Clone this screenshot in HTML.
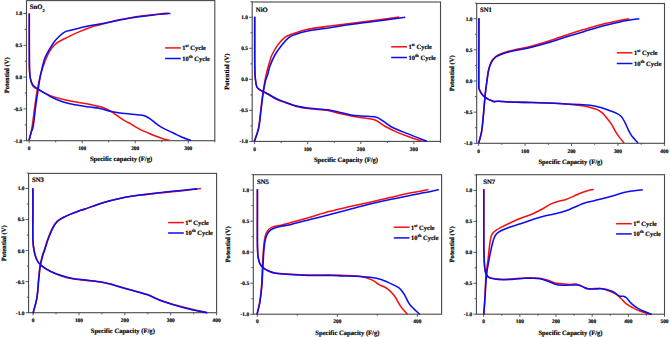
<!DOCTYPE html>
<html><head><meta charset="utf-8"><style>
html,body{margin:0;padding:0;background:#fff;}
body{width:670px;height:337px;overflow:hidden;}
svg{display:block;}
text{font-family:"Liberation Serif",serif;font-weight:bold;fill:#000;stroke:#000;stroke-width:0.18px;text-rendering:geometricPrecision;}
.tl{font-size:5.4px;}
.tt{font-size:6.7px;}
.lg{font-size:6.5px;}
.al{font-size:6.6px;}
</style></head><body>
<svg width="670" height="337" viewBox="0 0 670 337">
<rect width="670" height="337" fill="#fff"/>
<rect x="26.50" y="0.60" width="188.30" height="140.10" fill="none" stroke="#484848" stroke-width="1.1"/>
<line x1="23.50" y1="140.70" x2="26.50" y2="140.70" stroke="#484848" stroke-width="0.9"/>
<text x="22.30" y="142.60" class="tl" text-anchor="end">-1.0</text>
<line x1="24.70" y1="124.80" x2="26.50" y2="124.80" stroke="#484848" stroke-width="0.9"/>
<line x1="23.50" y1="108.90" x2="26.50" y2="108.90" stroke="#484848" stroke-width="0.9"/>
<text x="22.30" y="110.80" class="tl" text-anchor="end">-0.5</text>
<line x1="24.70" y1="93.00" x2="26.50" y2="93.00" stroke="#484848" stroke-width="0.9"/>
<line x1="23.50" y1="77.10" x2="26.50" y2="77.10" stroke="#484848" stroke-width="0.9"/>
<text x="22.30" y="79.00" class="tl" text-anchor="end">0.0</text>
<line x1="24.70" y1="61.20" x2="26.50" y2="61.20" stroke="#484848" stroke-width="0.9"/>
<line x1="23.50" y1="45.30" x2="26.50" y2="45.30" stroke="#484848" stroke-width="0.9"/>
<text x="22.30" y="47.20" class="tl" text-anchor="end">0.5</text>
<line x1="24.70" y1="29.40" x2="26.50" y2="29.40" stroke="#484848" stroke-width="0.9"/>
<line x1="23.50" y1="13.50" x2="26.50" y2="13.50" stroke="#484848" stroke-width="0.9"/>
<text x="22.30" y="15.40" class="tl" text-anchor="end">1.0</text>
<line x1="29.15" y1="140.70" x2="29.15" y2="143.30" stroke="#484848" stroke-width="0.9"/>
<text x="29.15" y="149.90" class="tl" text-anchor="middle">0</text>
<line x1="55.67" y1="140.70" x2="55.67" y2="142.30" stroke="#484848" stroke-width="0.9"/>
<line x1="82.19" y1="140.70" x2="82.19" y2="143.30" stroke="#484848" stroke-width="0.9"/>
<text x="82.19" y="149.90" class="tl" text-anchor="middle">100</text>
<line x1="108.71" y1="140.70" x2="108.71" y2="142.30" stroke="#484848" stroke-width="0.9"/>
<line x1="135.23" y1="140.70" x2="135.23" y2="143.30" stroke="#484848" stroke-width="0.9"/>
<text x="135.23" y="149.90" class="tl" text-anchor="middle">200</text>
<line x1="161.75" y1="140.70" x2="161.75" y2="142.30" stroke="#484848" stroke-width="0.9"/>
<line x1="188.27" y1="140.70" x2="188.27" y2="143.30" stroke="#484848" stroke-width="0.9"/>
<text x="188.27" y="149.90" class="tl" text-anchor="middle">300</text>
<line x1="214.79" y1="140.70" x2="214.79" y2="142.30" stroke="#484848" stroke-width="0.9"/>
<path d="M29.30 13.40C29.30 17.83 29.28 31.23 29.30 40.00C29.32 48.77 29.30 60.17 29.40 66.00C29.50 71.83 29.63 72.50 29.90 75.00C30.17 77.50 30.43 79.08 31.00 81.00C31.57 82.92 31.80 84.92 33.30 86.50C34.80 88.08 37.17 88.98 40.00 90.50C42.83 92.02 46.55 94.13 50.30 95.60C54.05 97.07 58.43 98.27 62.50 99.30C66.57 100.33 70.12 100.95 74.70 101.80C79.28 102.65 85.52 103.52 90.00 104.40C94.48 105.28 98.62 106.20 101.60 107.10C104.58 108.00 105.95 108.83 107.90 109.80C109.85 110.77 111.37 111.63 113.30 112.90C115.23 114.17 117.42 115.98 119.50 117.40C121.58 118.82 124.05 120.40 125.80 121.40C127.55 122.40 128.43 122.52 130.00 123.40C131.57 124.28 133.47 125.67 135.20 126.70C136.93 127.73 138.65 128.73 140.40 129.60C142.15 130.47 143.95 131.13 145.70 131.90C147.45 132.67 149.17 133.47 150.90 134.20C152.63 134.93 154.37 135.63 156.10 136.30C157.83 136.97 159.55 137.62 161.30 138.20C163.05 138.78 165.20 139.45 166.60 139.80C168.00 140.15 169.18 140.22 169.70 140.30" fill="none" stroke="#f51010" stroke-width="1.55" stroke-linejoin="round" stroke-linecap="butt"/>
<path d="M29.20 140.40C29.68 138.15 31.22 132.18 32.10 126.90C32.98 121.62 33.68 114.58 34.50 108.70C35.32 102.82 35.98 97.28 37.00 91.60C38.02 85.92 39.18 79.87 40.60 74.60C42.02 69.33 43.88 64.10 45.50 60.00C47.12 55.90 48.50 52.77 50.30 50.00C52.10 47.23 54.12 45.18 56.30 43.40C58.48 41.62 60.82 40.68 63.40 39.30C65.98 37.92 68.82 36.50 71.80 35.10C74.78 33.70 77.92 32.30 81.30 30.90C84.68 29.50 88.98 27.72 92.10 26.70C95.22 25.68 96.70 25.67 100.00 24.80C103.30 23.93 107.92 22.47 111.90 21.50C115.88 20.53 119.92 19.80 123.90 19.00C127.88 18.20 131.82 17.33 135.80 16.70C139.78 16.07 143.82 15.67 147.80 15.20C151.78 14.73 156.25 14.22 159.70 13.90C163.15 13.58 167.03 13.40 168.50 13.30" fill="none" stroke="#f51010" stroke-width="1.55" stroke-linejoin="round" stroke-linecap="butt"/>
<path d="M29.30 13.40C29.30 17.83 29.28 31.23 29.30 40.00C29.32 48.77 29.30 60.17 29.40 66.00C29.50 71.83 29.65 72.55 29.90 75.00C30.15 77.45 30.33 78.95 30.90 80.70C31.47 82.45 32.08 84.08 33.30 85.50C34.52 86.92 35.37 87.37 38.20 89.20C41.03 91.03 46.25 94.40 50.30 96.50C54.35 98.60 58.43 100.42 62.50 101.80C66.57 103.18 70.12 103.92 74.70 104.80C79.28 105.68 85.95 106.52 90.00 107.10C94.05 107.68 96.02 107.70 99.00 108.30C101.98 108.90 104.92 110.00 107.90 110.70C110.88 111.40 113.92 112.02 116.90 112.50C119.88 112.98 122.82 113.27 125.80 113.60C128.78 113.93 132.37 114.27 134.80 114.50C137.23 114.73 138.58 114.70 140.40 115.00C142.22 115.30 143.95 115.57 145.70 116.30C147.45 117.03 149.17 118.18 150.90 119.40C152.63 120.62 154.37 122.30 156.10 123.60C157.83 124.90 159.55 126.15 161.30 127.20C163.05 128.25 164.85 129.05 166.60 129.90C168.35 130.75 170.07 131.47 171.80 132.30C173.53 133.13 175.27 134.08 177.00 134.90C178.73 135.72 180.45 136.47 182.20 137.20C183.95 137.93 186.02 138.75 187.50 139.30C188.98 139.85 190.50 140.30 191.10 140.50" fill="none" stroke="#0c0cf0" stroke-width="1.55" stroke-linejoin="round" stroke-linecap="butt"/>
<path d="M28.90 140.40C29.25 139.17 30.27 135.45 31.00 133.00C31.73 130.55 32.52 130.17 33.30 125.70C34.08 121.23 34.88 112.28 35.70 106.20C36.52 100.12 37.38 94.47 38.20 89.20C39.02 83.93 39.60 79.47 40.60 74.60C41.60 69.73 43.22 63.35 44.20 60.00C45.18 56.65 45.68 56.17 46.50 54.50C47.32 52.83 47.87 52.05 49.10 50.00C50.33 47.95 52.10 44.58 53.90 42.20C55.70 39.82 58.12 37.38 59.90 35.70C61.68 34.02 63.02 32.97 64.60 32.10C66.18 31.23 67.20 31.10 69.40 30.50C71.60 29.90 74.42 29.28 77.80 28.50C81.18 27.72 86.00 26.55 89.70 25.80C93.40 25.05 96.30 24.68 100.00 24.00C103.70 23.32 107.92 22.48 111.90 21.70C115.88 20.92 119.92 20.03 123.90 19.30C127.88 18.57 131.82 17.88 135.80 17.30C139.78 16.72 143.82 16.30 147.80 15.80C151.78 15.30 155.93 14.70 159.70 14.30C163.47 13.90 168.62 13.55 170.40 13.40" fill="none" stroke="#0c0cf0" stroke-width="1.55" stroke-linejoin="round" stroke-linecap="butt"/>
<text transform="translate(29.80 8.70) scale(1 1.000)" class="tt">SnO<tspan dy="3.2" font-size="4.4">2</tspan></text>
<line x1="165.10" y1="47.90" x2="180.80" y2="47.90" stroke="#f51010" stroke-width="1.5"/>
<line x1="165.10" y1="58.50" x2="180.80" y2="58.50" stroke="#0c0cf0" stroke-width="1.5"/>
<text transform="translate(182.30 50.20) scale(1 1.000)" class="lg">1<tspan dy="-2.9" font-size="4.4">st</tspan><tspan dy="2.9"> Cycle</tspan></text>
<text transform="translate(182.30 60.80) scale(1 1.000)" class="lg">10<tspan dy="-2.9" font-size="4.4">th</tspan><tspan dy="2.9"> Cycle</tspan></text>
<text transform="translate(121.00 161.00) scale(1 1.000)" class="al" text-anchor="middle">Specific capacity (F/g)</text>
<text transform="translate(6.80 75.30) rotate(-90) scale(1 1.000)" x="0" y="2.2" class="al" text-anchor="middle">Potential (V)</text>
<rect x="252.20" y="2.00" width="188.30" height="139.40" fill="none" stroke="#484848" stroke-width="1.1"/>
<line x1="249.20" y1="141.40" x2="252.20" y2="141.40" stroke="#484848" stroke-width="0.9"/>
<text x="248.00" y="143.30" class="tl" text-anchor="end">-1.0</text>
<line x1="250.40" y1="125.89" x2="252.20" y2="125.89" stroke="#484848" stroke-width="0.9"/>
<line x1="249.20" y1="110.38" x2="252.20" y2="110.38" stroke="#484848" stroke-width="0.9"/>
<text x="248.00" y="112.28" class="tl" text-anchor="end">-0.5</text>
<line x1="250.40" y1="94.86" x2="252.20" y2="94.86" stroke="#484848" stroke-width="0.9"/>
<line x1="249.20" y1="79.35" x2="252.20" y2="79.35" stroke="#484848" stroke-width="0.9"/>
<text x="248.00" y="81.25" class="tl" text-anchor="end">0.0</text>
<line x1="250.40" y1="63.84" x2="252.20" y2="63.84" stroke="#484848" stroke-width="0.9"/>
<line x1="249.20" y1="48.32" x2="252.20" y2="48.32" stroke="#484848" stroke-width="0.9"/>
<text x="248.00" y="50.22" class="tl" text-anchor="end">0.5</text>
<line x1="250.40" y1="32.81" x2="252.20" y2="32.81" stroke="#484848" stroke-width="0.9"/>
<line x1="249.20" y1="17.30" x2="252.20" y2="17.30" stroke="#484848" stroke-width="0.9"/>
<text x="248.00" y="19.20" class="tl" text-anchor="end">1.0</text>
<line x1="250.40" y1="1.79" x2="252.20" y2="1.79" stroke="#484848" stroke-width="0.9"/>
<line x1="254.60" y1="141.40" x2="254.60" y2="144.00" stroke="#484848" stroke-width="0.9"/>
<text x="254.60" y="150.60" class="tl" text-anchor="middle">0</text>
<line x1="281.15" y1="141.40" x2="281.15" y2="143.00" stroke="#484848" stroke-width="0.9"/>
<line x1="307.70" y1="141.40" x2="307.70" y2="144.00" stroke="#484848" stroke-width="0.9"/>
<text x="307.70" y="150.60" class="tl" text-anchor="middle">100</text>
<line x1="334.25" y1="141.40" x2="334.25" y2="143.00" stroke="#484848" stroke-width="0.9"/>
<line x1="360.80" y1="141.40" x2="360.80" y2="144.00" stroke="#484848" stroke-width="0.9"/>
<text x="360.80" y="150.60" class="tl" text-anchor="middle">200</text>
<line x1="387.35" y1="141.40" x2="387.35" y2="143.00" stroke="#484848" stroke-width="0.9"/>
<line x1="413.90" y1="141.40" x2="413.90" y2="144.00" stroke="#484848" stroke-width="0.9"/>
<text x="413.90" y="150.60" class="tl" text-anchor="middle">300</text>
<line x1="440.45" y1="141.40" x2="440.45" y2="143.00" stroke="#484848" stroke-width="0.9"/>
<path d="M254.70 16.70C254.70 22.25 254.68 41.62 254.70 50.00C254.72 58.38 254.70 62.32 254.80 67.00C254.90 71.68 254.95 74.77 255.30 78.10C255.65 81.43 255.97 84.92 256.90 87.00C257.83 89.08 259.12 89.43 260.90 90.60C262.68 91.77 265.00 92.57 267.60 94.00C270.20 95.43 273.53 97.77 276.50 99.20C279.47 100.63 282.07 101.40 285.40 102.60C288.73 103.80 292.42 105.38 296.50 106.40C300.58 107.42 304.70 108.02 309.90 108.70C315.10 109.38 322.68 109.68 327.70 110.50C332.72 111.32 336.10 112.68 340.00 113.60C343.90 114.52 347.38 115.30 351.10 116.00C354.82 116.70 358.40 117.17 362.30 117.80C366.20 118.43 370.80 118.43 374.50 119.80C378.20 121.17 380.97 124.03 384.50 126.00C388.03 127.97 391.98 129.93 395.70 131.60C399.42 133.27 402.35 134.37 406.80 136.00C411.25 137.63 419.80 140.50 422.40 141.40" fill="none" stroke="#f51010" stroke-width="1.55" stroke-linejoin="round" stroke-linecap="butt"/>
<path d="M254.30 141.60C255.00 139.37 257.45 133.22 258.50 128.20C259.55 123.18 259.88 117.25 260.60 111.50C261.32 105.75 262.07 98.88 262.80 93.70C263.53 88.52 264.33 84.02 265.00 80.40C265.67 76.78 266.08 74.90 266.80 72.00C267.52 69.10 268.45 65.83 269.30 63.00C270.15 60.17 270.47 58.02 271.90 55.00C273.33 51.98 275.70 47.88 277.90 44.90C280.10 41.92 282.72 38.90 285.10 37.10C287.48 35.30 288.42 35.40 292.20 34.10C295.98 32.80 301.50 30.63 307.80 29.30C314.10 27.97 322.32 27.13 330.00 26.10C337.68 25.07 345.93 24.10 353.90 23.10C361.87 22.10 370.23 21.10 377.80 20.10C385.37 19.10 395.72 17.60 399.30 17.10" fill="none" stroke="#f51010" stroke-width="1.55" stroke-linejoin="round" stroke-linecap="butt"/>
<path d="M254.70 16.70C254.70 22.25 254.68 41.62 254.70 50.00C254.72 58.38 254.70 62.32 254.80 67.00C254.90 71.68 254.95 74.77 255.30 78.10C255.65 81.43 255.97 84.95 256.90 87.00C257.83 89.05 259.12 89.28 260.90 90.40C262.68 91.52 265.00 92.30 267.60 93.70C270.20 95.10 273.53 97.38 276.50 98.80C279.47 100.22 282.07 101.00 285.40 102.20C288.73 103.40 292.42 105.00 296.50 106.00C300.58 107.00 304.70 107.57 309.90 108.20C315.10 108.83 322.68 109.08 327.70 109.80C332.72 110.52 336.10 111.65 340.00 112.50C343.90 113.35 347.38 114.32 351.10 114.90C354.82 115.48 358.22 115.63 362.30 116.00C366.38 116.37 372.27 116.35 375.60 117.10C378.93 117.85 379.70 118.90 382.30 120.50C384.90 122.10 387.12 124.55 391.20 126.70C395.28 128.85 400.85 130.98 406.80 133.40C412.75 135.82 423.55 139.90 426.90 141.20" fill="none" stroke="#0c0cf0" stroke-width="1.55" stroke-linejoin="round" stroke-linecap="butt"/>
<path d="M254.30 141.60C255.03 139.37 257.60 133.22 258.70 128.20C259.80 123.18 260.17 117.25 260.90 111.50C261.63 105.75 262.32 98.88 263.10 93.70C263.88 88.52 264.85 83.52 265.60 80.40C266.35 77.28 266.87 77.40 267.60 75.00C268.33 72.60 268.78 69.33 270.00 66.00C271.22 62.67 272.98 58.43 274.90 55.00C276.82 51.57 279.20 48.28 281.50 45.40C283.80 42.52 286.52 39.48 288.70 37.70C290.88 35.92 291.42 35.80 294.60 34.70C297.78 33.60 301.90 32.27 307.80 31.10C313.70 29.93 322.32 28.87 330.00 27.70C337.68 26.53 345.93 25.22 353.90 24.10C361.87 22.98 369.25 22.13 377.80 21.00C386.35 19.87 400.63 17.92 405.20 17.30" fill="none" stroke="#0c0cf0" stroke-width="1.55" stroke-linejoin="round" stroke-linecap="butt"/>
<text transform="translate(255.80 12.10) scale(1 1.000)" class="tt">NiO</text>
<line x1="391.20" y1="46.80" x2="406.90" y2="46.80" stroke="#f51010" stroke-width="1.5"/>
<line x1="391.20" y1="57.50" x2="406.90" y2="57.50" stroke="#0c0cf0" stroke-width="1.5"/>
<text transform="translate(408.40 49.10) scale(1 1.000)" class="lg">1<tspan dy="-2.9" font-size="4.4">st</tspan><tspan dy="2.9"> Cycle</tspan></text>
<text transform="translate(408.40 59.80) scale(1 1.000)" class="lg">10<tspan dy="-2.9" font-size="4.4">th</tspan><tspan dy="2.9"> Cycle</tspan></text>
<text transform="translate(346.00 162.20) scale(1 1.000)" class="al" text-anchor="middle">Specific Capacity (F/g)</text>
<text transform="translate(226.70 71.70) rotate(-90) scale(1 1.000)" x="0" y="2.2" class="al" text-anchor="middle">Potential (V)</text>
<rect x="476.70" y="3.50" width="187.80" height="139.80" fill="none" stroke="#484848" stroke-width="1.1"/>
<line x1="473.70" y1="143.30" x2="476.70" y2="143.30" stroke="#484848" stroke-width="0.9"/>
<text x="472.50" y="145.20" class="tl" text-anchor="end">-1.0</text>
<line x1="474.90" y1="127.72" x2="476.70" y2="127.72" stroke="#484848" stroke-width="0.9"/>
<line x1="473.70" y1="112.15" x2="476.70" y2="112.15" stroke="#484848" stroke-width="0.9"/>
<text x="472.50" y="114.05" class="tl" text-anchor="end">-0.5</text>
<line x1="474.90" y1="96.58" x2="476.70" y2="96.58" stroke="#484848" stroke-width="0.9"/>
<line x1="473.70" y1="81.00" x2="476.70" y2="81.00" stroke="#484848" stroke-width="0.9"/>
<text x="472.50" y="82.90" class="tl" text-anchor="end">0.0</text>
<line x1="474.90" y1="65.42" x2="476.70" y2="65.42" stroke="#484848" stroke-width="0.9"/>
<line x1="473.70" y1="49.85" x2="476.70" y2="49.85" stroke="#484848" stroke-width="0.9"/>
<text x="472.50" y="51.75" class="tl" text-anchor="end">0.5</text>
<line x1="474.90" y1="34.28" x2="476.70" y2="34.28" stroke="#484848" stroke-width="0.9"/>
<line x1="473.70" y1="18.70" x2="476.70" y2="18.70" stroke="#484848" stroke-width="0.9"/>
<text x="472.50" y="20.60" class="tl" text-anchor="end">1.0</text>
<line x1="474.90" y1="3.12" x2="476.70" y2="3.12" stroke="#484848" stroke-width="0.9"/>
<line x1="478.60" y1="143.30" x2="478.60" y2="145.90" stroke="#484848" stroke-width="0.9"/>
<text x="478.60" y="152.50" class="tl" text-anchor="middle">0</text>
<line x1="501.83" y1="143.30" x2="501.83" y2="144.90" stroke="#484848" stroke-width="0.9"/>
<line x1="525.05" y1="143.30" x2="525.05" y2="145.90" stroke="#484848" stroke-width="0.9"/>
<text x="525.05" y="152.50" class="tl" text-anchor="middle">100</text>
<line x1="548.27" y1="143.30" x2="548.27" y2="144.90" stroke="#484848" stroke-width="0.9"/>
<line x1="571.50" y1="143.30" x2="571.50" y2="145.90" stroke="#484848" stroke-width="0.9"/>
<text x="571.50" y="152.50" class="tl" text-anchor="middle">200</text>
<line x1="594.73" y1="143.30" x2="594.73" y2="144.90" stroke="#484848" stroke-width="0.9"/>
<line x1="617.95" y1="143.30" x2="617.95" y2="145.90" stroke="#484848" stroke-width="0.9"/>
<text x="617.95" y="152.50" class="tl" text-anchor="middle">300</text>
<line x1="641.18" y1="143.30" x2="641.18" y2="144.90" stroke="#484848" stroke-width="0.9"/>
<line x1="664.40" y1="143.30" x2="664.40" y2="145.90" stroke="#484848" stroke-width="0.9"/>
<text x="664.40" y="152.50" class="tl" text-anchor="middle">400</text>
<path d="M478.90 18.20C478.88 25.17 478.82 48.90 478.80 60.00C478.78 71.10 478.72 79.92 478.80 84.80C478.88 89.68 478.83 87.82 479.30 89.30C479.77 90.78 480.67 92.40 481.60 93.70C482.53 95.00 483.67 96.12 484.90 97.10C486.13 98.08 487.88 99.02 489.00 99.60C490.12 100.18 490.80 100.27 491.60 100.60C492.40 100.93 492.68 101.48 493.80 101.60C494.92 101.72 495.70 101.23 498.30 101.30C500.90 101.37 503.83 101.78 509.40 102.00C514.97 102.22 524.27 102.38 531.70 102.60C539.13 102.82 548.28 103.05 554.00 103.30C559.72 103.55 561.03 103.63 566.00 104.10C570.97 104.57 579.80 105.55 583.80 106.10C587.80 106.65 587.85 106.85 590.00 107.40C592.15 107.95 594.70 108.52 596.70 109.40C598.70 110.28 600.22 111.15 602.00 112.70C603.78 114.25 605.83 116.80 607.40 118.70C608.97 120.60 610.07 121.98 611.40 124.10C612.73 126.22 614.07 129.18 615.40 131.40C616.73 133.62 617.95 135.47 619.40 137.40C620.85 139.33 623.32 142.07 624.10 143.00" fill="none" stroke="#f51010" stroke-width="1.55" stroke-linejoin="round" stroke-linecap="butt"/>
<path d="M478.70 143.20C479.18 141.27 480.90 135.38 481.60 131.60C482.30 127.82 482.48 124.58 482.90 120.50C483.32 116.42 483.70 111.57 484.10 107.10C484.50 102.63 484.82 98.22 485.30 93.70C485.78 89.18 486.47 83.95 487.00 80.00C487.53 76.05 487.82 73.00 488.50 70.00C489.18 67.00 489.92 64.25 491.10 62.00C492.28 59.75 493.75 57.95 495.60 56.50C497.45 55.05 499.17 54.40 502.20 53.30C505.23 52.20 509.63 50.92 513.80 49.90C517.97 48.88 523.17 48.13 527.20 47.20C531.23 46.27 534.55 45.28 538.00 44.30C541.45 43.32 543.27 42.82 547.90 41.30C552.53 39.78 559.83 37.15 565.80 35.20C571.77 33.25 577.73 31.38 583.70 29.60C589.67 27.82 595.62 26.00 601.60 24.50C607.58 23.00 614.97 21.57 619.60 20.60C624.23 19.63 627.77 19.02 629.40 18.70" fill="none" stroke="#f51010" stroke-width="1.55" stroke-linejoin="round" stroke-linecap="butt"/>
<path d="M478.90 18.20C478.88 25.17 478.82 48.90 478.80 60.00C478.78 71.10 478.72 79.92 478.80 84.80C478.88 89.68 478.83 87.82 479.30 89.30C479.77 90.78 480.67 92.40 481.60 93.70C482.53 95.00 483.67 96.12 484.90 97.10C486.13 98.08 487.88 99.02 489.00 99.60C490.12 100.18 490.80 100.27 491.60 100.60C492.40 100.93 492.68 101.48 493.80 101.60C494.92 101.72 495.70 101.23 498.30 101.30C500.90 101.37 503.83 101.78 509.40 102.00C514.97 102.22 524.27 102.38 531.70 102.60C539.13 102.82 548.28 103.08 554.00 103.30C559.72 103.52 561.67 103.68 566.00 103.90C570.33 104.12 576.00 104.37 580.00 104.60C584.00 104.83 586.55 104.83 590.00 105.30C593.45 105.77 597.37 106.50 600.70 107.40C604.03 108.30 607.33 109.70 610.00 110.70C612.67 111.70 614.80 112.40 616.70 113.40C618.60 114.40 620.05 115.25 621.40 116.70C622.75 118.15 623.68 119.98 624.80 122.10C625.92 124.22 627.00 127.18 628.10 129.40C629.20 131.62 630.28 133.73 631.40 135.40C632.52 137.07 633.68 138.13 634.80 139.40C635.92 140.67 637.55 142.40 638.10 143.00" fill="none" stroke="#0c0cf0" stroke-width="1.55" stroke-linejoin="round" stroke-linecap="butt"/>
<path d="M478.70 143.20C479.18 141.27 480.90 135.38 481.60 131.60C482.30 127.82 482.48 124.58 482.90 120.50C483.32 116.42 483.70 111.57 484.10 107.10C484.50 102.63 484.80 98.22 485.30 93.70C485.80 89.18 486.53 83.95 487.10 80.00C487.67 76.05 487.98 72.93 488.70 70.00C489.42 67.07 490.20 64.57 491.40 62.40C492.60 60.23 494.10 58.42 495.90 57.00C497.70 55.58 499.22 54.95 502.20 53.90C505.18 52.85 509.63 51.63 513.80 50.70C517.97 49.77 523.17 49.17 527.20 48.30C531.23 47.43 534.55 46.42 538.00 45.50C541.45 44.58 543.27 44.20 547.90 42.80C552.53 41.40 559.83 38.95 565.80 37.10C571.77 35.25 577.73 33.50 583.70 31.70C589.67 29.90 595.62 27.93 601.60 26.30C607.58 24.67 614.87 22.95 619.60 21.90C624.33 20.85 626.72 20.53 630.00 20.00C633.28 19.47 637.75 18.92 639.30 18.70" fill="none" stroke="#0c0cf0" stroke-width="1.55" stroke-linejoin="round" stroke-linecap="butt"/>
<text transform="translate(480.00 12.30) scale(1 1.000)" class="tt">SN1</text>
<line x1="616.80" y1="52.80" x2="632.50" y2="52.80" stroke="#f51010" stroke-width="1.5"/>
<line x1="616.80" y1="63.50" x2="632.50" y2="63.50" stroke="#0c0cf0" stroke-width="1.5"/>
<text transform="translate(634.00 55.10) scale(1 1.000)" class="lg">1<tspan dy="-2.9" font-size="4.4">st</tspan><tspan dy="2.9"> Cycle</tspan></text>
<text transform="translate(634.00 65.80) scale(1 1.000)" class="lg">10<tspan dy="-2.9" font-size="4.4">th</tspan><tspan dy="2.9"> Cycle</tspan></text>
<text transform="translate(570.50 163.60) scale(1 1.000)" class="al" text-anchor="middle">Specific Capacity (F/g)</text>
<text transform="translate(451.30 73.30) rotate(-90) scale(1 1.000)" x="0" y="2.2" class="al" text-anchor="middle">Potential (V)</text>
<rect x="28.60" y="173.40" width="188.00" height="139.30" fill="none" stroke="#484848" stroke-width="1.1"/>
<line x1="25.60" y1="312.70" x2="28.60" y2="312.70" stroke="#484848" stroke-width="0.9"/>
<text x="24.40" y="314.60" class="tl" text-anchor="end">-1.0</text>
<line x1="26.80" y1="297.18" x2="28.60" y2="297.18" stroke="#484848" stroke-width="0.9"/>
<line x1="25.60" y1="281.65" x2="28.60" y2="281.65" stroke="#484848" stroke-width="0.9"/>
<text x="24.40" y="283.55" class="tl" text-anchor="end">-0.5</text>
<line x1="26.80" y1="266.12" x2="28.60" y2="266.12" stroke="#484848" stroke-width="0.9"/>
<line x1="25.60" y1="250.60" x2="28.60" y2="250.60" stroke="#484848" stroke-width="0.9"/>
<text x="24.40" y="252.50" class="tl" text-anchor="end">0.0</text>
<line x1="26.80" y1="235.07" x2="28.60" y2="235.07" stroke="#484848" stroke-width="0.9"/>
<line x1="25.60" y1="219.55" x2="28.60" y2="219.55" stroke="#484848" stroke-width="0.9"/>
<text x="24.40" y="221.45" class="tl" text-anchor="end">0.5</text>
<line x1="26.80" y1="204.02" x2="28.60" y2="204.02" stroke="#484848" stroke-width="0.9"/>
<line x1="25.60" y1="188.50" x2="28.60" y2="188.50" stroke="#484848" stroke-width="0.9"/>
<text x="24.40" y="190.40" class="tl" text-anchor="end">1.0</text>
<line x1="26.80" y1="172.97" x2="28.60" y2="172.97" stroke="#484848" stroke-width="0.9"/>
<line x1="33.10" y1="312.70" x2="33.10" y2="315.30" stroke="#484848" stroke-width="0.9"/>
<text x="33.10" y="321.90" class="tl" text-anchor="middle">0</text>
<line x1="56.04" y1="312.70" x2="56.04" y2="314.30" stroke="#484848" stroke-width="0.9"/>
<line x1="78.98" y1="312.70" x2="78.98" y2="315.30" stroke="#484848" stroke-width="0.9"/>
<text x="78.98" y="321.90" class="tl" text-anchor="middle">100</text>
<line x1="101.92" y1="312.70" x2="101.92" y2="314.30" stroke="#484848" stroke-width="0.9"/>
<line x1="124.86" y1="312.70" x2="124.86" y2="315.30" stroke="#484848" stroke-width="0.9"/>
<text x="124.86" y="321.90" class="tl" text-anchor="middle">200</text>
<line x1="147.80" y1="312.70" x2="147.80" y2="314.30" stroke="#484848" stroke-width="0.9"/>
<line x1="170.74" y1="312.70" x2="170.74" y2="315.30" stroke="#484848" stroke-width="0.9"/>
<text x="170.74" y="321.90" class="tl" text-anchor="middle">300</text>
<line x1="193.68" y1="312.70" x2="193.68" y2="314.30" stroke="#484848" stroke-width="0.9"/>
<line x1="216.62" y1="312.70" x2="216.62" y2="315.30" stroke="#484848" stroke-width="0.9"/>
<text x="216.62" y="321.90" class="tl" text-anchor="middle">400</text>
<path d="M32.90 188.30C32.90 192.75 32.90 206.38 32.90 215.00C32.90 223.62 32.68 233.98 32.90 240.00C33.12 246.02 33.53 247.77 34.20 251.10C34.87 254.43 35.70 257.58 36.90 260.00C38.10 262.42 39.17 263.70 41.40 265.60C43.63 267.50 46.97 269.68 50.30 271.40C53.63 273.12 57.70 274.67 61.40 275.90C65.10 277.13 68.42 278.05 72.50 278.80C76.58 279.55 81.07 279.83 85.90 280.40C90.73 280.97 97.05 281.48 101.50 282.20C105.95 282.92 109.85 283.98 112.60 284.70C115.35 285.42 115.25 285.68 118.00 286.50C120.75 287.32 124.27 288.25 129.10 289.60C133.93 290.95 141.43 292.72 147.00 294.60C152.57 296.48 156.20 298.73 162.50 300.90C168.80 303.07 177.25 305.62 184.80 307.60C192.35 309.58 203.97 311.93 207.80 312.80" fill="none" stroke="#f51010" stroke-width="1.55" stroke-linejoin="round" stroke-linecap="butt"/>
<path d="M33.20 313.20C33.82 310.65 36.02 303.42 36.90 297.90C37.78 292.38 38.00 285.30 38.50 280.10C39.00 274.90 39.30 270.63 39.90 266.70C40.50 262.77 41.37 259.28 42.10 256.50C42.83 253.72 43.32 252.98 44.30 250.00C45.28 247.02 46.65 242.23 48.00 238.60C49.35 234.97 50.90 231.07 52.40 228.20C53.90 225.33 55.20 223.18 57.00 221.40C58.80 219.62 60.93 218.72 63.20 217.50C65.47 216.28 67.88 215.23 70.60 214.10C73.32 212.97 77.10 211.55 79.50 210.70C81.90 209.85 81.10 210.33 85.00 209.00C88.90 207.67 96.93 204.50 102.90 202.70C108.87 200.90 114.83 199.43 120.80 198.20C126.77 196.97 132.73 196.12 138.70 195.30C144.67 194.48 150.62 193.92 156.60 193.30C162.58 192.68 168.62 192.22 174.60 191.60C180.58 190.98 188.12 190.10 192.50 189.60C196.88 189.10 199.50 188.77 200.90 188.60" fill="none" stroke="#f51010" stroke-width="1.55" stroke-linejoin="round" stroke-linecap="butt"/>
<path d="M32.90 188.30C32.90 192.75 32.90 206.38 32.90 215.00C32.90 223.62 32.68 233.98 32.90 240.00C33.12 246.02 33.53 247.77 34.20 251.10C34.87 254.43 35.70 257.58 36.90 260.00C38.10 262.42 39.17 263.73 41.40 265.60C43.63 267.47 46.97 269.53 50.30 271.20C53.63 272.87 57.70 274.38 61.40 275.60C65.10 276.82 68.42 277.75 72.50 278.50C76.58 279.25 81.07 279.53 85.90 280.10C90.73 280.67 97.05 281.17 101.50 281.90C105.95 282.63 109.85 283.77 112.60 284.50C115.35 285.23 115.25 285.48 118.00 286.30C120.75 287.12 124.27 288.02 129.10 289.40C133.93 290.78 141.43 292.63 147.00 294.60C152.57 296.57 156.20 298.98 162.50 301.20C168.80 303.42 177.37 305.97 184.80 307.90C192.23 309.83 203.38 311.98 207.10 312.80" fill="none" stroke="#0c0cf0" stroke-width="1.55" stroke-linejoin="round" stroke-linecap="butt"/>
<path d="M32.90 313.20C33.57 310.65 35.93 303.42 36.90 297.90C37.87 292.38 38.15 285.30 38.70 280.10C39.25 274.90 39.57 270.63 40.20 266.70C40.83 262.77 41.75 259.28 42.50 256.50C43.25 253.72 43.72 252.98 44.70 250.00C45.68 247.02 47.05 242.23 48.40 238.60C49.75 234.97 51.32 231.05 52.80 228.20C54.28 225.35 55.57 223.28 57.30 221.50C59.03 219.72 60.98 218.73 63.20 217.50C65.42 216.27 67.88 215.23 70.60 214.10C73.32 212.97 77.10 211.55 79.50 210.70C81.90 209.85 81.10 210.33 85.00 209.00C88.90 207.67 96.93 204.50 102.90 202.70C108.87 200.90 114.83 199.45 120.80 198.20C126.77 196.95 132.73 196.08 138.70 195.20C144.67 194.32 150.62 193.58 156.60 192.90C162.58 192.22 168.62 191.70 174.60 191.10C180.58 190.50 188.75 189.68 192.50 189.30C196.25 188.92 196.33 188.88 197.10 188.80" fill="none" stroke="#0c0cf0" stroke-width="1.55" stroke-linejoin="round" stroke-linecap="butt"/>
<text transform="translate(32.00 181.70) scale(1 1.000)" class="tt">SN3</text>
<line x1="168.10" y1="222.60" x2="183.80" y2="222.60" stroke="#f51010" stroke-width="1.5"/>
<line x1="168.10" y1="233.00" x2="183.80" y2="233.00" stroke="#0c0cf0" stroke-width="1.5"/>
<text transform="translate(185.30 224.90) scale(1 1.000)" class="lg">1<tspan dy="-2.9" font-size="4.4">st</tspan><tspan dy="2.9"> Cycle</tspan></text>
<text transform="translate(185.30 235.30) scale(1 1.000)" class="lg">10<tspan dy="-2.9" font-size="4.4">th</tspan><tspan dy="2.9"> Cycle</tspan></text>
<text transform="translate(122.80 333.20) scale(1 1.000)" class="al" text-anchor="middle">Specific Capacity (F/g)</text>
<text transform="translate(4.00 243.30) rotate(-90) scale(1 1.000)" x="0" y="2.2" class="al" text-anchor="middle">Potential (V)</text>
<rect x="253.30" y="174.70" width="188.30" height="139.50" fill="none" stroke="#484848" stroke-width="1.1"/>
<line x1="250.30" y1="314.20" x2="253.30" y2="314.20" stroke="#484848" stroke-width="0.9"/>
<text x="249.10" y="316.10" class="tl" text-anchor="end">-1.0</text>
<line x1="251.50" y1="298.69" x2="253.30" y2="298.69" stroke="#484848" stroke-width="0.9"/>
<line x1="250.30" y1="283.18" x2="253.30" y2="283.18" stroke="#484848" stroke-width="0.9"/>
<text x="249.10" y="285.07" class="tl" text-anchor="end">-0.5</text>
<line x1="251.50" y1="267.66" x2="253.30" y2="267.66" stroke="#484848" stroke-width="0.9"/>
<line x1="250.30" y1="252.15" x2="253.30" y2="252.15" stroke="#484848" stroke-width="0.9"/>
<text x="249.10" y="254.05" class="tl" text-anchor="end">0.0</text>
<line x1="251.50" y1="236.64" x2="253.30" y2="236.64" stroke="#484848" stroke-width="0.9"/>
<line x1="250.30" y1="221.12" x2="253.30" y2="221.12" stroke="#484848" stroke-width="0.9"/>
<text x="249.10" y="223.03" class="tl" text-anchor="end">0.5</text>
<line x1="251.50" y1="205.61" x2="253.30" y2="205.61" stroke="#484848" stroke-width="0.9"/>
<line x1="250.30" y1="190.10" x2="253.30" y2="190.10" stroke="#484848" stroke-width="0.9"/>
<text x="249.10" y="192.00" class="tl" text-anchor="end">1.0</text>
<line x1="251.50" y1="174.59" x2="253.30" y2="174.59" stroke="#484848" stroke-width="0.9"/>
<line x1="257.30" y1="314.20" x2="257.30" y2="316.80" stroke="#484848" stroke-width="0.9"/>
<text x="257.30" y="323.40" class="tl" text-anchor="middle">0</text>
<line x1="297.30" y1="314.20" x2="297.30" y2="315.80" stroke="#484848" stroke-width="0.9"/>
<line x1="337.30" y1="314.20" x2="337.30" y2="316.80" stroke="#484848" stroke-width="0.9"/>
<text x="337.30" y="323.40" class="tl" text-anchor="middle">200</text>
<line x1="377.30" y1="314.20" x2="377.30" y2="315.80" stroke="#484848" stroke-width="0.9"/>
<line x1="417.30" y1="314.20" x2="417.30" y2="316.80" stroke="#484848" stroke-width="0.9"/>
<text x="417.30" y="323.40" class="tl" text-anchor="middle">400</text>
<path d="M257.40 189.20C257.40 193.50 257.40 206.20 257.40 215.00C257.40 223.80 257.32 235.27 257.40 242.00C257.48 248.73 257.52 251.87 257.90 255.40C258.28 258.93 258.85 261.17 259.70 263.20C260.55 265.23 261.52 266.30 263.00 267.60C264.48 268.90 266.55 270.10 268.60 271.00C270.65 271.90 272.33 272.50 275.30 273.00C278.27 273.50 280.83 273.67 286.40 274.00C291.97 274.33 301.27 274.83 308.70 275.00C316.13 275.17 325.28 274.93 331.00 275.00C336.72 275.07 338.03 275.15 343.00 275.40C347.97 275.65 355.97 275.75 360.80 276.50C365.63 277.25 369.03 278.60 372.00 279.90C374.97 281.20 376.02 282.82 378.60 284.30C381.18 285.78 384.90 286.93 387.50 288.80C390.10 290.67 391.97 292.53 394.20 295.50C396.43 298.47 398.67 303.45 400.90 306.60C403.13 309.75 406.48 313.10 407.60 314.40" fill="none" stroke="#f51010" stroke-width="1.55" stroke-linejoin="round" stroke-linecap="butt"/>
<path d="M257.00 314.40C257.45 312.35 258.95 306.75 259.70 302.10C260.45 297.45 261.05 292.07 261.50 286.50C261.95 280.93 262.15 273.78 262.40 268.70C262.65 263.62 262.80 259.45 263.00 256.00C263.20 252.55 263.35 250.72 263.60 248.00C263.85 245.28 264.05 242.18 264.50 239.70C264.95 237.22 265.52 234.88 266.30 233.10C267.08 231.32 267.92 230.08 269.20 229.00C270.48 227.92 272.02 227.23 274.00 226.60C275.98 225.97 278.43 225.83 281.10 225.20C283.77 224.57 285.18 224.13 290.00 222.80C294.82 221.47 303.33 219.12 310.00 217.20C316.67 215.28 323.33 213.07 330.00 211.30C336.67 209.53 343.33 208.12 350.00 206.60C356.67 205.08 363.33 203.70 370.00 202.20C376.67 200.70 383.33 199.12 390.00 197.60C396.67 196.08 403.58 194.45 410.00 193.10C416.42 191.75 425.42 190.10 428.50 189.50" fill="none" stroke="#f51010" stroke-width="1.55" stroke-linejoin="round" stroke-linecap="butt"/>
<path d="M257.40 189.20C257.40 193.50 257.40 206.20 257.40 215.00C257.40 223.80 257.32 235.27 257.40 242.00C257.48 248.73 257.52 251.87 257.90 255.40C258.28 258.93 258.85 261.17 259.70 263.20C260.55 265.23 261.52 266.30 263.00 267.60C264.48 268.90 266.55 270.07 268.60 271.00C270.65 271.93 272.33 272.65 275.30 273.20C278.27 273.75 280.83 273.93 286.40 274.30C291.97 274.67 301.27 275.22 308.70 275.40C316.13 275.58 325.28 275.32 331.00 275.40C336.72 275.48 338.03 275.72 343.00 275.90C347.97 276.08 355.23 276.10 360.80 276.50C366.37 276.90 371.95 277.37 376.40 278.30C380.85 279.23 383.78 280.53 387.50 282.10C391.22 283.67 395.92 285.67 398.70 287.70C401.48 289.73 402.35 291.52 404.20 294.30C406.05 297.08 407.20 301.05 409.80 304.40C412.40 307.75 418.13 312.73 419.80 314.40" fill="none" stroke="#0c0cf0" stroke-width="1.55" stroke-linejoin="round" stroke-linecap="butt"/>
<path d="M257.00 314.40C257.48 312.35 259.10 306.75 259.90 302.10C260.70 297.45 261.32 292.07 261.80 286.50C262.28 280.93 262.52 273.78 262.80 268.70C263.08 263.62 263.28 259.45 263.50 256.00C263.72 252.55 263.83 250.53 264.10 248.00C264.37 245.47 264.63 242.98 265.10 240.80C265.57 238.62 266.02 236.67 266.90 234.90C267.78 233.13 269.02 231.38 270.40 230.20C271.78 229.02 273.22 228.50 275.20 227.80C277.18 227.10 279.83 226.52 282.30 226.00C284.77 225.48 285.38 225.78 290.00 224.70C294.62 223.62 303.33 221.20 310.00 219.50C316.67 217.80 323.33 216.22 330.00 214.50C336.67 212.78 343.33 210.93 350.00 209.20C356.67 207.47 363.33 205.70 370.00 204.10C376.67 202.50 383.33 201.03 390.00 199.60C396.67 198.17 404.17 196.67 410.00 195.50C415.83 194.33 420.20 193.58 425.00 192.60C429.80 191.62 436.50 190.10 438.80 189.60" fill="none" stroke="#0c0cf0" stroke-width="1.55" stroke-linejoin="round" stroke-linecap="butt"/>
<text transform="translate(257.00 184.20) scale(1 1.000)" class="tt">SN5</text>
<line x1="393.80" y1="227.20" x2="409.50" y2="227.20" stroke="#f51010" stroke-width="1.5"/>
<line x1="393.80" y1="237.90" x2="409.50" y2="237.90" stroke="#0c0cf0" stroke-width="1.5"/>
<text transform="translate(411.00 229.50) scale(1 1.000)" class="lg">1<tspan dy="-2.9" font-size="4.4">st</tspan><tspan dy="2.9"> Cycle</tspan></text>
<text transform="translate(411.00 240.20) scale(1 1.000)" class="lg">10<tspan dy="-2.9" font-size="4.4">th</tspan><tspan dy="2.9"> Cycle</tspan></text>
<text transform="translate(347.40 334.70) scale(1 1.000)" class="al" text-anchor="middle">Specific Capacity (F/g)</text>
<text transform="translate(228.10 244.40) rotate(-90) scale(1 1.000)" x="0" y="2.2" class="al" text-anchor="middle">Potential (V)</text>
<rect x="476.40" y="174.70" width="188.10" height="139.50" fill="none" stroke="#484848" stroke-width="1.1"/>
<line x1="473.40" y1="314.20" x2="476.40" y2="314.20" stroke="#484848" stroke-width="0.9"/>
<text x="472.20" y="316.10" class="tl" text-anchor="end">-1.0</text>
<line x1="474.60" y1="298.73" x2="476.40" y2="298.73" stroke="#484848" stroke-width="0.9"/>
<line x1="473.40" y1="283.25" x2="476.40" y2="283.25" stroke="#484848" stroke-width="0.9"/>
<text x="472.20" y="285.15" class="tl" text-anchor="end">-0.5</text>
<line x1="474.60" y1="267.78" x2="476.40" y2="267.78" stroke="#484848" stroke-width="0.9"/>
<line x1="473.40" y1="252.30" x2="476.40" y2="252.30" stroke="#484848" stroke-width="0.9"/>
<text x="472.20" y="254.20" class="tl" text-anchor="end">0.0</text>
<line x1="474.60" y1="236.83" x2="476.40" y2="236.83" stroke="#484848" stroke-width="0.9"/>
<line x1="473.40" y1="221.35" x2="476.40" y2="221.35" stroke="#484848" stroke-width="0.9"/>
<text x="472.20" y="223.25" class="tl" text-anchor="end">0.5</text>
<line x1="474.60" y1="205.88" x2="476.40" y2="205.88" stroke="#484848" stroke-width="0.9"/>
<line x1="473.40" y1="190.40" x2="476.40" y2="190.40" stroke="#484848" stroke-width="0.9"/>
<text x="472.20" y="192.30" class="tl" text-anchor="end">1.0</text>
<line x1="474.60" y1="174.93" x2="476.40" y2="174.93" stroke="#484848" stroke-width="0.9"/>
<line x1="483.70" y1="314.20" x2="483.70" y2="316.80" stroke="#484848" stroke-width="0.9"/>
<text x="483.70" y="323.40" class="tl" text-anchor="middle">0</text>
<line x1="501.78" y1="314.20" x2="501.78" y2="315.80" stroke="#484848" stroke-width="0.9"/>
<line x1="519.86" y1="314.20" x2="519.86" y2="316.80" stroke="#484848" stroke-width="0.9"/>
<text x="519.86" y="323.40" class="tl" text-anchor="middle">100</text>
<line x1="537.94" y1="314.20" x2="537.94" y2="315.80" stroke="#484848" stroke-width="0.9"/>
<line x1="556.02" y1="314.20" x2="556.02" y2="316.80" stroke="#484848" stroke-width="0.9"/>
<text x="556.02" y="323.40" class="tl" text-anchor="middle">200</text>
<line x1="574.10" y1="314.20" x2="574.10" y2="315.80" stroke="#484848" stroke-width="0.9"/>
<line x1="592.18" y1="314.20" x2="592.18" y2="316.80" stroke="#484848" stroke-width="0.9"/>
<text x="592.18" y="323.40" class="tl" text-anchor="middle">300</text>
<line x1="610.26" y1="314.20" x2="610.26" y2="315.80" stroke="#484848" stroke-width="0.9"/>
<line x1="628.34" y1="314.20" x2="628.34" y2="316.80" stroke="#484848" stroke-width="0.9"/>
<text x="628.34" y="323.40" class="tl" text-anchor="middle">400</text>
<line x1="646.42" y1="314.20" x2="646.42" y2="315.80" stroke="#484848" stroke-width="0.9"/>
<line x1="664.50" y1="314.20" x2="664.50" y2="316.80" stroke="#484848" stroke-width="0.9"/>
<text x="664.50" y="323.40" class="tl" text-anchor="middle">500</text>
<path d="M483.80 189.30C483.80 193.58 483.80 206.22 483.80 215.00C483.80 223.78 483.72 234.17 483.80 242.00C483.88 249.83 484.07 257.17 484.30 262.00C484.53 266.83 484.83 268.93 485.20 271.00C485.57 273.07 485.87 273.35 486.50 274.40C487.13 275.45 487.60 276.57 489.00 277.30C490.40 278.03 492.67 278.47 494.90 278.80C497.13 279.13 499.90 279.25 502.40 279.30C504.90 279.35 507.62 279.22 509.90 279.10C512.18 278.98 513.62 278.80 516.10 278.60C518.58 278.40 522.15 278.02 524.80 277.90C527.45 277.78 529.52 277.85 532.00 277.90C534.48 277.95 537.17 277.85 539.70 278.20C542.23 278.55 544.72 279.23 547.20 280.00C549.68 280.77 552.12 282.17 554.60 282.80C557.08 283.43 559.53 283.53 562.10 283.80C564.67 284.07 567.78 284.35 570.00 284.40C572.22 284.45 573.73 283.92 575.40 284.10C577.07 284.28 577.98 284.75 580.00 285.50C582.02 286.25 585.17 288.08 587.50 288.60C589.83 289.12 591.77 288.63 594.00 288.60C596.23 288.57 598.63 288.10 600.90 288.40C603.17 288.70 605.13 289.50 607.60 290.40C610.07 291.30 613.47 292.45 615.70 293.80C617.93 295.15 619.22 296.82 621.00 298.50C622.78 300.18 624.38 302.33 626.40 303.90C628.42 305.47 630.85 306.72 633.10 307.90C635.35 309.08 637.20 309.95 639.90 311.00C642.60 312.05 647.73 313.67 649.30 314.20" fill="none" stroke="#f51010" stroke-width="1.55" stroke-linejoin="round" stroke-linecap="butt"/>
<path d="M483.80 314.40C483.98 311.62 484.53 304.20 484.90 297.70C485.27 291.20 485.48 281.72 486.00 275.40C486.52 269.08 487.43 264.53 488.00 259.80C488.57 255.07 488.88 250.87 489.40 247.00C489.92 243.13 490.37 239.08 491.10 236.60C491.83 234.12 492.23 233.58 493.80 232.10C495.37 230.62 497.90 229.18 500.50 227.70C503.10 226.22 506.07 224.77 509.40 223.20C512.73 221.63 516.78 219.78 520.50 218.30C524.22 216.82 527.98 215.90 531.70 214.30C535.42 212.70 539.47 210.48 542.80 208.70C546.13 206.92 548.73 204.92 551.70 203.60C554.67 202.28 558.22 201.50 560.60 200.80C562.98 200.10 563.80 200.18 566.00 199.40C568.20 198.62 571.20 197.22 573.80 196.10C576.40 194.98 579.18 193.63 581.60 192.70C584.02 191.77 586.27 191.05 588.30 190.50C590.33 189.95 592.88 189.58 593.80 189.40" fill="none" stroke="#f51010" stroke-width="1.55" stroke-linejoin="round" stroke-linecap="butt"/>
<path d="M483.80 189.30C483.80 193.58 483.80 206.22 483.80 215.00C483.80 223.78 483.72 234.17 483.80 242.00C483.88 249.83 484.07 257.17 484.30 262.00C484.53 266.83 484.83 268.90 485.20 271.00C485.57 273.10 485.87 273.50 486.50 274.60C487.13 275.70 487.60 276.85 489.00 277.60C490.40 278.35 492.67 278.75 494.90 279.10C497.13 279.45 499.90 279.63 502.40 279.70C504.90 279.77 507.62 279.62 509.90 279.50C512.18 279.38 513.62 279.20 516.10 279.00C518.58 278.80 522.15 278.42 524.80 278.30C527.45 278.18 529.52 278.22 532.00 278.30C534.48 278.38 537.17 278.37 539.70 278.80C542.23 279.23 544.72 280.05 547.20 280.90C549.68 281.75 552.12 283.17 554.60 283.90C557.08 284.63 559.53 285.10 562.10 285.30C564.67 285.50 567.33 285.13 570.00 285.10C572.67 285.07 576.02 284.85 578.10 285.10C580.18 285.35 580.93 285.98 582.50 286.60C584.07 287.22 585.58 288.40 587.50 288.80C589.42 289.20 591.77 289.00 594.00 289.00C596.23 289.00 598.63 288.67 600.90 288.80C603.17 288.93 605.58 289.30 607.60 289.80C609.62 290.30 611.20 290.83 613.00 291.80C614.80 292.77 617.07 294.87 618.40 295.60C619.73 296.33 620.12 296.08 621.00 296.20C621.88 296.32 622.80 296.03 623.70 296.30C624.60 296.57 625.05 296.53 626.40 297.80C627.75 299.07 630.00 302.22 631.80 303.90C633.60 305.58 635.18 306.67 637.20 307.90C639.22 309.13 641.45 310.22 643.90 311.30C646.35 312.38 650.57 313.88 651.90 314.40" fill="none" stroke="#0c0cf0" stroke-width="1.55" stroke-linejoin="round" stroke-linecap="butt"/>
<path d="M483.80 314.40C484.00 311.62 484.55 304.20 485.00 297.70C485.45 291.20 485.83 281.72 486.50 275.40C487.17 269.08 488.15 264.53 489.00 259.80C489.85 255.07 490.80 250.50 491.60 247.00C492.40 243.50 493.07 240.90 493.80 238.80C494.53 236.70 494.88 235.70 496.00 234.40C497.12 233.10 498.27 232.20 500.50 231.00C502.73 229.80 506.07 228.42 509.40 227.20C512.73 225.98 516.78 224.92 520.50 223.70C524.22 222.48 527.98 221.10 531.70 219.90C535.42 218.70 539.08 217.50 542.80 216.50C546.52 215.50 550.13 214.85 554.00 213.90C557.87 212.95 561.03 212.58 566.00 210.80C570.97 209.02 578.97 204.92 583.80 203.20C588.63 201.48 590.55 201.62 595.00 200.50C599.45 199.38 605.68 197.83 610.50 196.50C615.32 195.17 620.18 193.43 623.90 192.50C627.62 191.57 629.65 191.35 632.80 190.90C635.95 190.45 641.13 189.98 642.80 189.80" fill="none" stroke="#0c0cf0" stroke-width="1.55" stroke-linejoin="round" stroke-linecap="butt"/>
<text transform="translate(483.30 184.20) scale(1 1.000)" class="tt">SN7</text>
<line x1="616.10" y1="223.70" x2="631.80" y2="223.70" stroke="#f51010" stroke-width="1.5"/>
<line x1="616.10" y1="233.90" x2="631.80" y2="233.90" stroke="#0c0cf0" stroke-width="1.5"/>
<text transform="translate(633.30 226.00) scale(1 1.000)" class="lg">1<tspan dy="-2.9" font-size="4.4">st</tspan><tspan dy="2.9"> Cycle</tspan></text>
<text transform="translate(633.30 236.20) scale(1 1.000)" class="lg">10<tspan dy="-2.9" font-size="4.4">th</tspan><tspan dy="2.9"> Cycle</tspan></text>
<text transform="translate(570.50 334.70) scale(1 1.000)" class="al" text-anchor="middle">Specific Capacity (F/g)</text>
<text transform="translate(451.30 244.40) rotate(-90) scale(1 1.000)" x="0" y="2.2" class="al" text-anchor="middle">Potential (V)</text>
</svg>
</body></html>
